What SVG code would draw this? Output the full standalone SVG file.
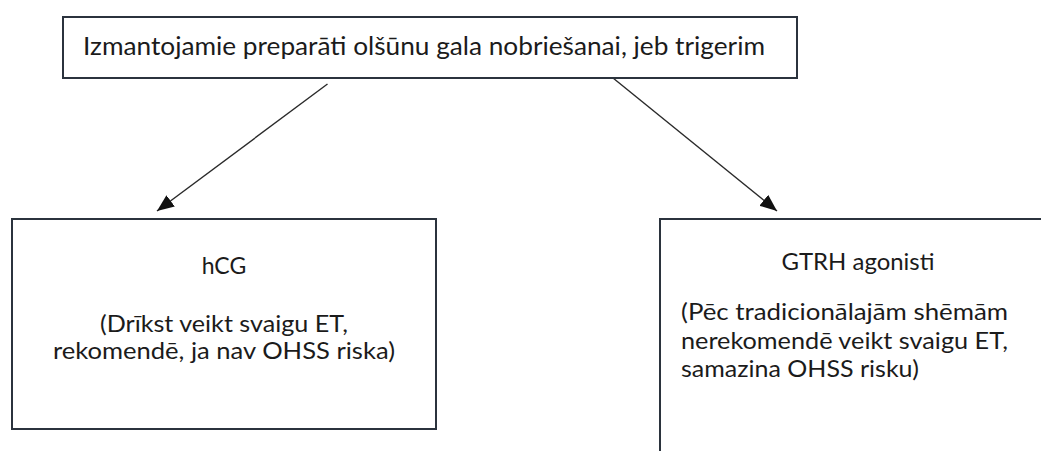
<svg xmlns="http://www.w3.org/2000/svg" width="1041" height="451" viewBox="0 0 1041 451">
  <style>
    .box { fill: #ffffff; stroke: #2b333d; stroke-width: 2; }
    .txt { font-family: Lato, "Open Sans", "Liberation Sans", sans-serif; fill: #1b1b1b; }
    .big { font-size: 25px; }
    .mid { font-size: 23px; }
    .edge { stroke: #2a2a2a; stroke-width: 1.4; fill: none; marker-end: url(#arrow); }
  </style>
  <defs>
    <marker id="arrow" markerUnits="userSpaceOnUse" markerWidth="18" markerHeight="14" refX="17" refY="7" orient="auto">
      <path d="M0,0 L17,7 L0,14 z" fill="#111111"/>
    </marker>
  </defs>

  <rect width="1041" height="451" fill="#ffffff"/>

  <!-- connectors -->
  <g id="connectors">
    <line class="edge" x1="327.5" y1="84" x2="157" y2="211"/>
    <line class="edge" x1="613" y1="78" x2="777" y2="211"/>
  </g>

  <!-- trigger drugs (root) -->
  <g id="node-trigger">
    <rect class="box" x="63" y="17" width="734" height="61"/>
    <text class="txt big" x="83" y="55" textLength="682" lengthAdjust="spacingAndGlyphs">Izmantojamie preparāti olšūnu gala nobriešanai, jeb trigerim</text>
  </g>

  <!-- hCG -->
  <g id="node-hcg">
    <rect class="box" x="12" y="219" width="424" height="210"/>
    <text class="txt mid" x="224" y="274" text-anchor="middle">hCG</text>
    <text class="txt mid" x="224" y="331.5" text-anchor="middle" textLength="248" lengthAdjust="spacingAndGlyphs">(Drīkst veikt svaigu ET,</text>
    <text class="txt mid" x="224" y="359" text-anchor="middle" textLength="342" lengthAdjust="spacingAndGlyphs">rekomendē, ja nav OHSS riska)</text>
  </g>

  <!-- GnRH agonists -->
  <g id="node-gtrh">
    <rect class="box" x="660" y="219" width="400" height="260"/>
    <text class="txt mid" x="858" y="270" text-anchor="middle" textLength="153" lengthAdjust="spacingAndGlyphs">GTRH agonisti</text>
    <text class="txt mid" x="681" y="320" textLength="327" lengthAdjust="spacingAndGlyphs">(Pēc tradicionālajām shēmām</text>
    <text class="txt mid" x="681" y="348.5" textLength="327" lengthAdjust="spacingAndGlyphs">nerekomendē veikt svaigu ET,</text>
    <text class="txt mid" x="681" y="377" textLength="238" lengthAdjust="spacingAndGlyphs">samazina OHSS risku)</text>
  </g>
</svg>
